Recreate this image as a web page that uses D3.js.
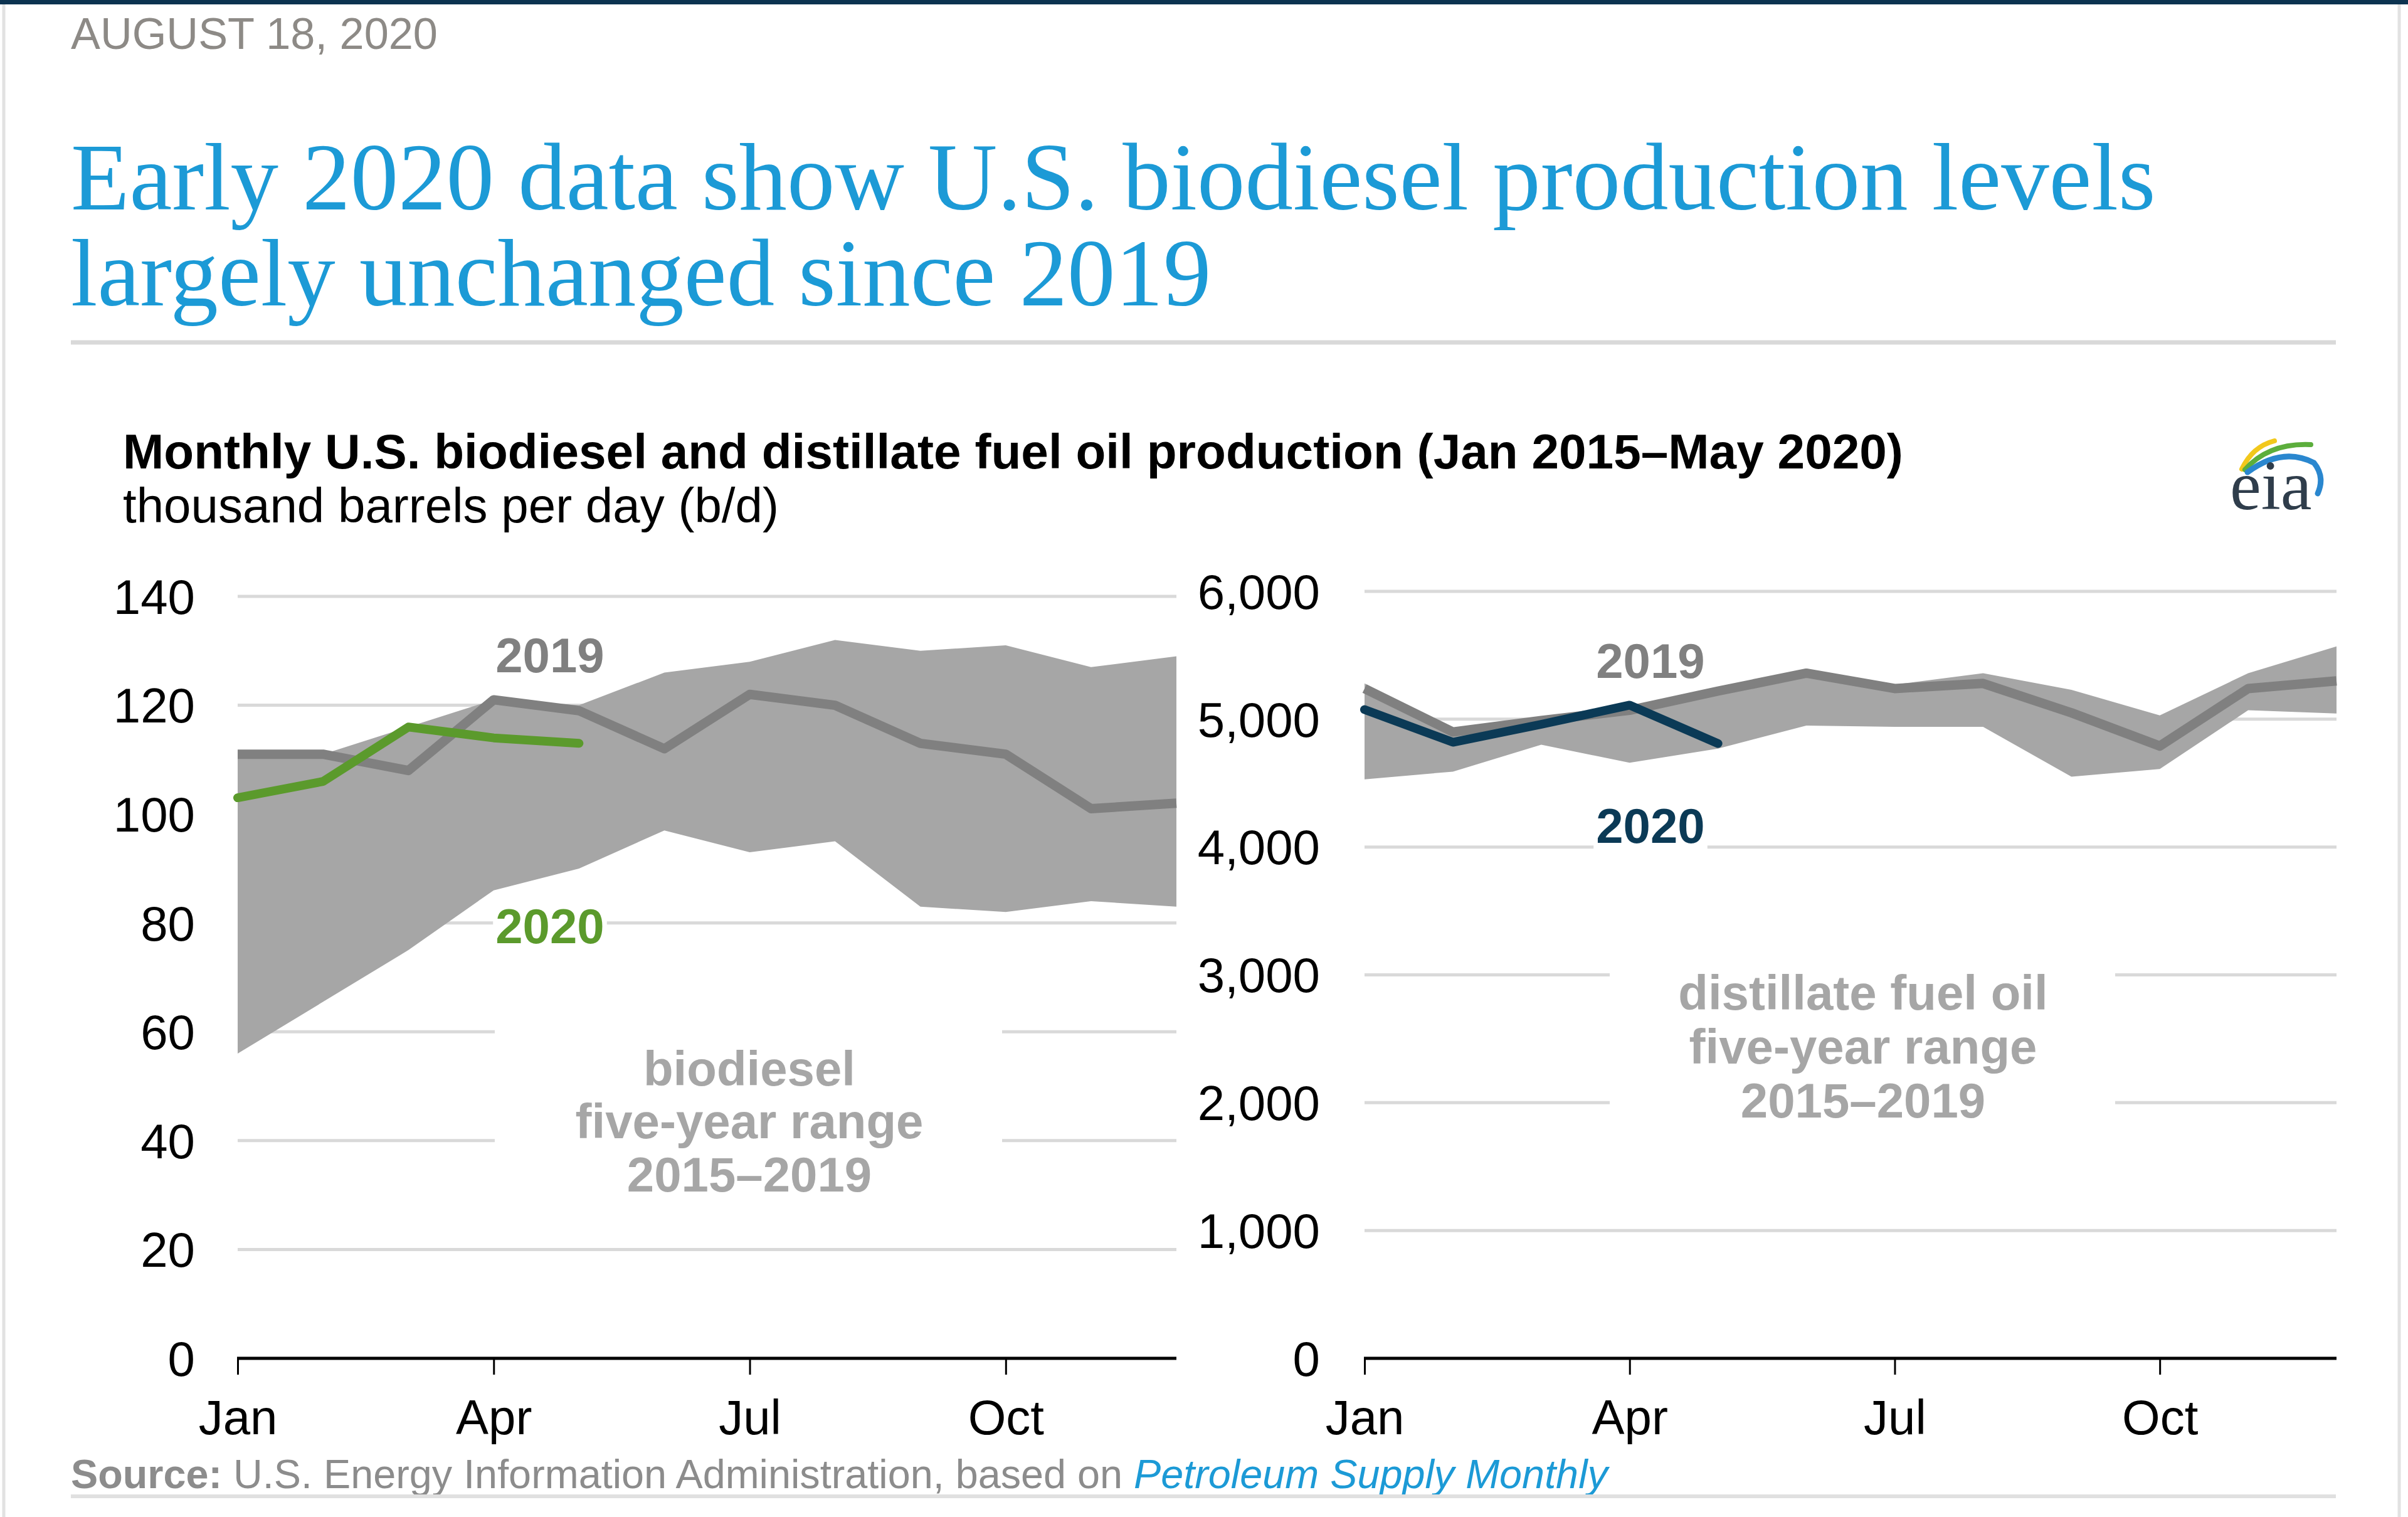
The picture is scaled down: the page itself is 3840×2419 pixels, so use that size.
<!DOCTYPE html>
<html><head><meta charset="utf-8">
<script src="https://cdn.jsdelivr.net/npm/d3@7"></script>
<style>body{margin:0;background:#fff;overflow:hidden} svg{display:block}</style>
</head><body>
<script>
// ---------- data ----------
const months = ["Jan","Feb","Mar","Apr","May","Jun","Jul","Aug","Sep","Oct","Nov","Dec"];
const xTickIdx = [0,3,6,9];
const bioTicks = [0,20,40,60,80,100,120,140];
const distTicks = [0,1000,2000,3000,4000,5000,6000];

const bioRangeHigh = [111,111,116,121,120,126,128,132,130,131,127,129];
const bioRangeLow  = [56,65.5,75,86,90,97,93,95,83,82,84,83];
const bio2019      = [111,111,108,121,119,112,122,120,113,111,101,102];
const bio2020      = [103,106,116,114,113];

const distRangeHigh = [5280,4920,4990,5080,5230,5390,5270,5360,5230,5030,5360,5570];
const distRangeLow  = [4530,4590,4800,4660,4770,4950,4940,4940,4550,4610,5070,5045];
const dist2019      = [5240,4900,4990,5070,5220,5360,5240,5280,5050,4790,5240,5300];
const dist2020      = [5075,4820,4960,5110,4810];

// ---------- canvas ----------
const W = 3840, H = 2419;
const svg = d3.select("body").append("svg").attr("width", W).attr("height", H);
const SANS = "'Liberation Sans', Arial, sans-serif";
const SERIF = "'Liberation Serif', 'Times New Roman', serif";

function fit(sel, target) {
  const fs = parseFloat(sel.attr("font-size"));
  const w = sel.node().getComputedTextLength();
  sel.attr("font-size", (fs * target / w).toFixed(2));
  return fs * target / w;
}

// frame
svg.append("rect").attr("x",0).attr("y",0).attr("width",W).attr("height",7).attr("fill","#0c3350");
svg.append("line").attr("x1",6).attr("x2",6).attr("y1",7).attr("y2",H).attr("stroke","#e2e2e2").attr("stroke-width",5);
svg.append("line").attr("x1",3826).attr("x2",3826).attr("y1",7).attr("y2",H).attr("stroke","#e2e2e2").attr("stroke-width",5);

// date
const dateT = svg.append("text").attr("x",113).attr("y",78).attr("font-family",SANS)
  .attr("font-size",70).attr("fill","#8d8a86").text("AUGUST 18, 2020");
fit(dateT, 585);

// headline
const h1 = svg.append("text").attr("x",113).attr("y",334).attr("font-family",SERIF)
  .attr("font-size",150).attr("fill","#1c9ad6").text("Early 2020 data show U.S. biodiesel production levels");
const hfs = fit(h1, 3325);
svg.append("text").attr("x",113).attr("y",487).attr("font-family",SERIF)
  .attr("font-size",hfs).attr("fill","#1c9ad6").text("largely unchanged since 2019");

svg.append("line").attr("x1",113).attr("x2",3725).attr("y1",546).attr("y2",546)
  .attr("stroke","#d9d9d9").attr("stroke-width",7);

// chart title
const ct = svg.append("text").attr("x",196).attr("y",747).attr("font-family",SANS)
  .attr("font-weight","bold").attr("font-size",80).attr("fill","#000")
  .text("Monthly U.S. biodiesel and distillate fuel oil production (Jan 2015\u2013May 2020)");
fit(ct, 2839);
const st = svg.append("text").attr("x",196).attr("y",833).attr("font-family",SANS)
  .attr("font-size",78).attr("fill","#000").text("thousand barrels per day (b/d)");
fit(st, 1046);

// eia logo
const logo = svg.append("g");
logo.append("path").attr("d","M3575,748 Q3592,712 3627,703").attr("fill","none").attr("stroke","#f2c81c").attr("stroke-width",8).attr("stroke-linecap","round");
logo.append("path").attr("d","M3580,749 Q3618,706 3685,709").attr("fill","none").attr("stroke","#5cae3c").attr("stroke-width",8).attr("stroke-linecap","round");
logo.append("path").attr("d","M3584,753 Q3640,712 3690,738 Q3708,760 3696,787").attr("fill","none").attr("stroke","#2a87cf").attr("stroke-width",9).attr("stroke-linecap","round");
logo.append("text").attr("x",3556).attr("y",812).attr("font-family",SERIF).attr("font-size",112)
  .attr("fill","#2f3d4b").text("eia");

// ---------- panels ----------
function panel(cfg) {
  const x = d3.scaleLinear().domain([0, 11]).range([cfg.x0, cfg.x1]);
  const y = d3.scaleLinear().domain([0, cfg.max]).range([2166, cfg.yTop]);
  const g = svg.append("g");

  // gridlines
  g.append("g").selectAll("line").data(cfg.ticks.filter(d => d > 0)).join("line")
    .attr("x1", cfg.x0).attr("x2", cfg.x1).attr("y1", d => y(d)).attr("y2", d => y(d))
    .attr("stroke", "#d9d9d9").attr("stroke-width", 5);

  // white box behind range label
  g.append("rect").attr("x", cfg.box[0]).attr("y", cfg.box[1])
    .attr("width", cfg.box[2] - cfg.box[0]).attr("height", cfg.box[3] - cfg.box[1]).attr("fill", "#fff");

  // range area
  const idx = d3.range(12);
  g.append("path").datum(idx)
    .attr("d", d3.area().x(i => x(i)).y0(i => y(cfg.low[i])).y1(i => y(cfg.high[i])))
    .attr("fill", "#a6a6a6");

  // 2019 line
  g.append("path").datum(cfg.s2019)
    .attr("d", d3.line().x((d, i) => x(i)).y(d => y(d)))
    .attr("fill", "none").attr("stroke", "#808080").attr("stroke-width", 15).attr("stroke-linejoin", "round");

  // 2020 line
  g.append("path").datum(cfg.s2020)
    .attr("d", d3.line().x((d, i) => x(i)).y(d => y(d)))
    .attr("fill", "none").attr("stroke", cfg.c2020).attr("stroke-width", 14)
    .attr("stroke-linejoin", "round").attr("stroke-linecap", "round");

  // x axis
  const xa = g.append("g").attr("transform", "translate(0,2166)")
    .call(d3.axisBottom(x).tickValues(xTickIdx).tickFormat(i => months[i]).tickSize(26).tickSizeOuter(0));
  xa.select(".domain").attr("stroke", "#000").attr("stroke-width", 5).attr("d", `M${cfg.x0 - 1},0H${cfg.x1}`);
  xa.selectAll(".tick line").attr("stroke", "#000").attr("stroke-width", 3);
  xa.selectAll(".tick text").attr("y", 121).attr("dy", 0).attr("font-family", SANS)
    .attr("font-size", 78).attr("fill", "#000");

  // y axis labels
  const ya = g.append("g").attr("transform", `translate(${cfg.labelX},0)`)
    .call(d3.axisLeft(y).tickValues(cfg.ticks).tickFormat(d3.format(",")).tickSize(0).tickPadding(0));
  ya.select(".domain").remove();
  ya.selectAll(".tick text").attr("font-family", SANS).attr("font-size", 78).attr("fill", "#000")
    .attr("dy", "0.35em").attr("text-anchor", "end");

  // series labels
  g.append("text").attr("x", cfg.l2019[0]).attr("y", cfg.l2019[1]).attr("text-anchor", "middle")
    .attr("font-family", SANS).attr("font-weight", "bold").attr("font-size", 78).attr("fill", "#808080").text("2019");
  const lab20g = g.append("g");
  const t20 = lab20g.append("text").attr("x", cfg.l2020[0]).attr("y", cfg.l2020[1]).attr("text-anchor", "middle")
    .attr("font-family", SANS).attr("font-weight", "bold").attr("font-size", 78).attr("fill", cfg.c2020).text("2020");
  const bb = t20.node().getBBox();
  lab20g.insert("rect", "text").attr("x", bb.x - 4).attr("y", bb.y + 8).attr("width", bb.width + 8)
    .attr("height", bb.height - 10).attr("fill", "#fff");

  // range label
  cfg.rangeText.forEach((s, i) => {
    g.append("text").attr("x", cfg.rangeX).attr("y", cfg.rangeY[i]).attr("text-anchor", "middle")
      .attr("font-family", SANS).attr("font-weight", "bold").attr("font-size", 78).attr("fill", "#a6a6a6").text(s);
  });
}

panel({
  x0: 379, x1: 1876, max: 140, yTop: 951, ticks: bioTicks, labelX: 311,
  high: bioRangeHigh, low: bioRangeLow, s2019: bio2019, s2020: bio2020, c2020: "#5b9a2c",
  box: [789, 1610, 1598, 1920],
  l2019: [877, 1072], l2020: [877, 1504],
  rangeText: ["biodiesel", "five-year range", "2015\u20132019"], rangeX: 1195, rangeY: [1731, 1815, 1900]
});

panel({
  x0: 2176, x1: 3726, max: 6000, yTop: 943, ticks: distTicks, labelX: 2105,
  high: distRangeHigh, low: distRangeLow, s2019: dist2019, s2020: dist2020, c2020: "#0b3a56",
  box: [2567, 1520, 3373, 1800],
  l2019: [2632, 1081], l2020: [2632, 1344],
  rangeText: ["distillate fuel oil", "five-year range", "2015\u20132019"], rangeX: 2971, rangeY: [1610, 1696, 1782]
});

// source
const src = svg.append("text").attr("x",113).attr("y",2373).attr("font-family",SANS).attr("font-size",64).attr("fill","#8c8c8c");
src.append("tspan").attr("font-weight","bold").text("Source:");
src.append("tspan").text(" U.S. Energy Information Administration, based on ");
src.append("tspan").attr("font-style","italic").attr("fill","#1c9ad6").text("Petroleum Supply Monthly");
fit(src, 2451);

svg.append("line").attr("x1",113).attr("x2",3725).attr("y1",2386).attr("y2",2386)
  .attr("stroke","#e0e0e0").attr("stroke-width",6);
</script>
</body></html>
